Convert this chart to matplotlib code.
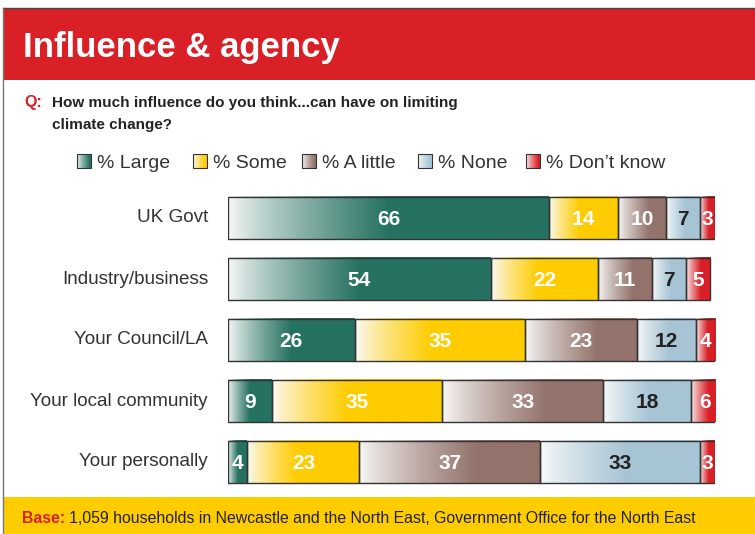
import matplotlib
matplotlib.use("Agg")
import matplotlib.pyplot as plt
import numpy as np
from matplotlib.patches import Rectangle

W, H = 755, 534

categories = ["UK Govt", "Industry/business", "Your Council/LA",
              "Your local community", "Your personally"]
series = ["% Large", "% Some", "% A little", "% None", "% Don\u2019t know"]
large = [66, 54, 26, 9, 4]
some = [14, 22, 35, 35, 23]
a_little = [10, 11, 23, 33, 37]
none = [7, 7, 12, 18, 33]
dont_know = [3, 5, 4, 6, 3]
values = [large, some, a_little, none, dont_know]

colors = ["#267262", "#ffcc00", "#93736b", "#a6c4d4", "#d91f26"]
label_colors = ["white", "white", "white", "#222222", "white"]
full_at = [0.5, 0.45, 0.65, 0.55, 0.6]
RED = "#d92027"

plt.rcParams["font.family"] = ["Liberation Sans", "DejaVu Sans"]


def fx(x):
    return x / W


def fy(y):
    return 1 - y / H


def ramp(color, full=0.6, n=200, start=(0.98, 0.98, 0.98)):
    c = np.array(matplotlib.colors.to_rgb(color))
    s = np.array(start)
    t = np.clip(np.linspace(0, 1, n) / full, 0, 1) ** 0.8
    t = t[:, None]
    return (s * (1 - t) + c * t)[None, :, :]


fig = plt.figure(figsize=(W / 100, H / 100), dpi=100)
bg = fig.add_axes([0, 0, 1, 1])
bg.set_xlim(0, W)
bg.set_ylim(H, 0)
bg.axis("off")

# frame, header band and footer band
bg.add_patch(Rectangle((3, 8), W, 72, facecolor=RED, edgecolor="none"))
bg.plot([3, W], [7.5, 7.5], color="#444444", lw=1)
bg.plot([3, 3], [7.5, H], color="#777777", lw=1)
bg.add_patch(Rectangle((3.5, 497), W, 40, facecolor="#ffcc00", edgecolor="none"))

bg.text(23, 57, "Influence & agency", color="white", fontsize=25,
        fontweight="bold", va="baseline")
bg.text(24, 107, "Q:", color=RED, fontsize=11.5, fontweight="bold",
        va="baseline")
bg.text(52, 107, "How much influence do you think...can have on limiting",
        color="#222222", fontsize=11, fontweight="bold", va="baseline")
bg.text(52, 129, "climate change?", color="#222222", fontsize=11,
        fontweight="bold", va="baseline")

t = bg.text(22, 523, "Base: ", color=RED, fontsize=11.4, fontweight="bold",
            va="baseline")
fig.canvas.draw()
bb = t.get_window_extent()
bg.text(22 + bb.width, 523,
        "1,059 households in Newcastle and the North East, Government Office for the North East",
        color="#222222", fontsize=11.4, va="baseline")

# legend with gradient swatches
legend_x = [77, 193, 302, 418, 526]
for name, color, lx in zip(series, colors, legend_x):
    bg.imshow(ramp(color, full=0.9), extent=[lx, lx + 14, 168, 154],
              aspect="auto", zorder=2)
    bg.add_patch(Rectangle((lx, 154), 14, 14, facecolor="none",
                           edgecolor="#333333", lw=0.8, zorder=3))
    bg.text(lx + 20, 167.5, name, color="#333333", fontsize=14, va="baseline")

# stacked bars
ax = fig.add_axes([fx(228), fy(492.5), fx(487), (492.5 - 187.5) / H])
ax.axis("off")
bar_h = 0.69
for i, cat in enumerate(categories):
    left = 0
    for k in range(len(series)):
        v = values[k][i]
        ax.imshow(ramp(colors[k], full_at[k]),
                  extent=[left, left + v, i + bar_h / 2, i - bar_h / 2],
                  aspect="auto", zorder=2, interpolation="bilinear")
        ax.add_patch(Rectangle((left, i - bar_h / 2), v, bar_h, facecolor="none",
                               edgecolor="#333333", lw=1, zorder=3))
        ax.text(left + v / 2, i + 0.02, str(v), color=label_colors[k],
                fontsize=15, fontweight="bold", ha="center", va="center", zorder=4)
        left += v
    ax.text(-4.1, i, cat, ha="right", va="center", fontsize=13.6, color="#333333")
ax.set_xlim(0, 100)
ax.set_ylim(4.5, -0.5)

fig.savefig("out.png", dpi=100)
